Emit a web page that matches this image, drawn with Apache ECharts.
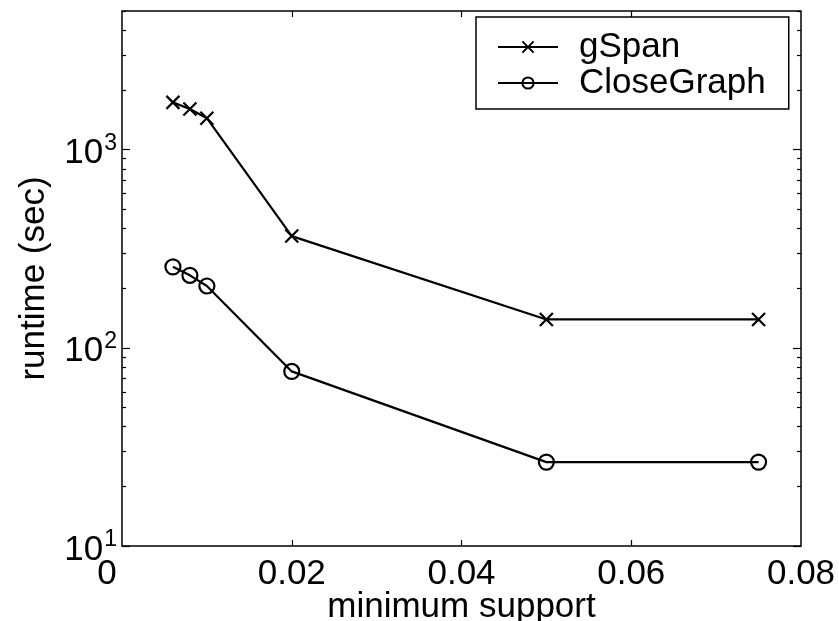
<!DOCTYPE html>
<html>
<head>
<meta charset="utf-8">
<script src="https://cdn.jsdelivr.net/npm/echarts@6/dist/echarts.min.js"></script>
<style>
html,body{margin:0;padding:0;background:#fff;}
#chart{width:839px;height:621px;}
</style>
</head>
<body>
<div id="chart"></div>
<script>
// ---- data ----
const minSupport = [0.006, 0.008, 0.01, 0.02, 0.05, 0.075];
const gSpanRuntime = [1730, 1600, 1440, 366, 139, 139];
const closeGraphRuntime = [256, 232, 205, 76, 26.5, 26.5];
const seriesNames = ['gSpan', 'CloseGraph'];
const xTickValues = [0, 0.02, 0.04, 0.06, 0.08];
const yMajorTicks = [10, 100, 1000];
const yMinorTicks = [20, 30, 40, 50, 60, 70, 80, 90, 200, 300, 400, 500, 600, 700, 800, 900, 2000, 3000, 4000, 5000];
const xAxisTitle = 'minimum support';
const yAxisTitle = 'runtime (sec)';

const FONT = "'Liberation Sans', Arial, Helvetica, sans-serif";
const chart = echarts.init(document.getElementById('chart'), null, {renderer: 'canvas'});

function pairs(xs, ys) { return xs.map((x, i) => [x, ys[i]]); }

const crossPath = 'path://M0,0L10,10M0,10L10,0';

const baseY = {
  type: 'log', logBase: 10, min: 10, max: 5000, gridIndex: 0,
  splitLine: {show: false}, axisLine: {show: false}
};

const option = {
  backgroundColor: '#fff',
  animation: false,
  grid: {left: 122, right: 38, top: 11, bottom: 75, outerBoundsMode: 'none', containLabel: false,
         show: true, borderColor: '#000', borderWidth: 1.5, backgroundColor: 'transparent'},
  legend: {
    orient: 'vertical', left: 476, top: 17,
    padding: [12, 23, 8, 21], itemGap: 0,
    itemWidth: 60, itemHeight: 14,
    borderColor: '#000', borderWidth: 1.5, backgroundColor: '#fff',
    textStyle: {fontFamily: FONT, fontSize: 35, color: '#000', lineHeight: 36, padding: [0, 0, 0, 16]},
    data: seriesNames
  },
  xAxis: [
    {
      type: 'value', min: 0, max: 0.08, interval: 0.02, position: 'bottom',
      axisLine: {show: false}, splitLine: {show: false},
      axisTick: {inside: true, length: 6, lineStyle: {color: '#000', width: 1.2}, customValues: [0.02, 0.04, 0.06]},
      axisLabel: {
        customValues: xTickValues,
        margin: 11, color: '#000', fontFamily: FONT, fontSize: 35,
        formatter: function (v) { return v === 0 ? '{z|0}' : v.toFixed(2); },
        rich: {z: {fontFamily: FONT, fontSize: 35, color: '#000', padding: [0, 30, 0, 0]}}
      },
      name: xAxisTitle, nameLocation: 'middle', nameGap: 44, nameMoveOverlap: false,
      nameTextStyle: {fontFamily: FONT, fontSize: 35, color: '#000'}
    },
    {
      type: 'value', min: 0, max: 0.08, interval: 0.02, position: 'top',
      axisLine: {show: false}, splitLine: {show: false}, axisLabel: {show: false},
      axisTick: {inside: true, length: 6, lineStyle: {color: '#000', width: 1.2}, customValues: [0.02, 0.04, 0.06]}
    }
  ],
  yAxis: [
    Object.assign({}, baseY, {
      position: 'left',
      axisTick: {inside: true, length: 8, lineStyle: {color: '#000', width: 1.2}, customValues: yMajorTicks},
      axisLabel: {
        customValues: yMajorTicks, margin: 5,
        formatter: function (v) { return '{b|10}{s|' + Math.round(Math.log10(v)) + '}'; },
        rich: {
          b: {fontFamily: FONT, fontSize: 35, color: '#000', lineHeight: 35, padding: [8, 0, 0, 0]},
          s: {fontFamily: FONT, fontSize: 23, color: '#000', lineHeight: 23, verticalAlign: 'top', padding: [0, 0, 0, 1]}
        }
      },
      name: yAxisTitle, nameLocation: 'middle', nameGap: 70, nameRotate: 90, nameMoveOverlap: false,
      nameTextStyle: {fontFamily: FONT, fontSize: 35, color: '#000'}
    }),
    Object.assign({}, baseY, {
      position: 'left', axisLabel: {show: false},
      axisTick: {inside: true, length: 4, lineStyle: {color: '#000', width: 1.2}, customValues: yMinorTicks}
    }),
    Object.assign({}, baseY, {
      position: 'right', axisLabel: {show: false},
      axisTick: {inside: true, length: 8, lineStyle: {color: '#000', width: 1.2}, customValues: yMajorTicks}
    }),
    Object.assign({}, baseY, {
      position: 'right', axisLabel: {show: false},
      axisTick: {inside: true, length: 4, lineStyle: {color: '#000', width: 1.2}, customValues: yMinorTicks}
    })
  ],
  series: [
    {
      name: seriesNames[0], type: 'line', xAxisIndex: 0, yAxisIndex: 0,
      data: pairs(minSupport, gSpanRuntime),
      symbol: crossPath, symbolSize: 13, showAllSymbol: true,
      lineStyle: {color: '#000', width: 2.2},
      itemStyle: {color: 'rgba(0,0,0,0)', borderColor: '#000', borderWidth: 2.2},
      emphasis: {disabled: true}
    },
    {
      name: seriesNames[1], type: 'line', xAxisIndex: 0, yAxisIndex: 0,
      data: pairs(minSupport, closeGraphRuntime),
      symbol: 'circle', symbolSize: 15, showAllSymbol: true,
      lineStyle: {color: '#000', width: 2.2},
      itemStyle: {color: 'rgba(0,0,0,0)', borderColor: '#000', borderWidth: 2.2},
      emphasis: {disabled: true}
    }
  ]
};
chart.setOption(option);
</script>
</body>
</html>
